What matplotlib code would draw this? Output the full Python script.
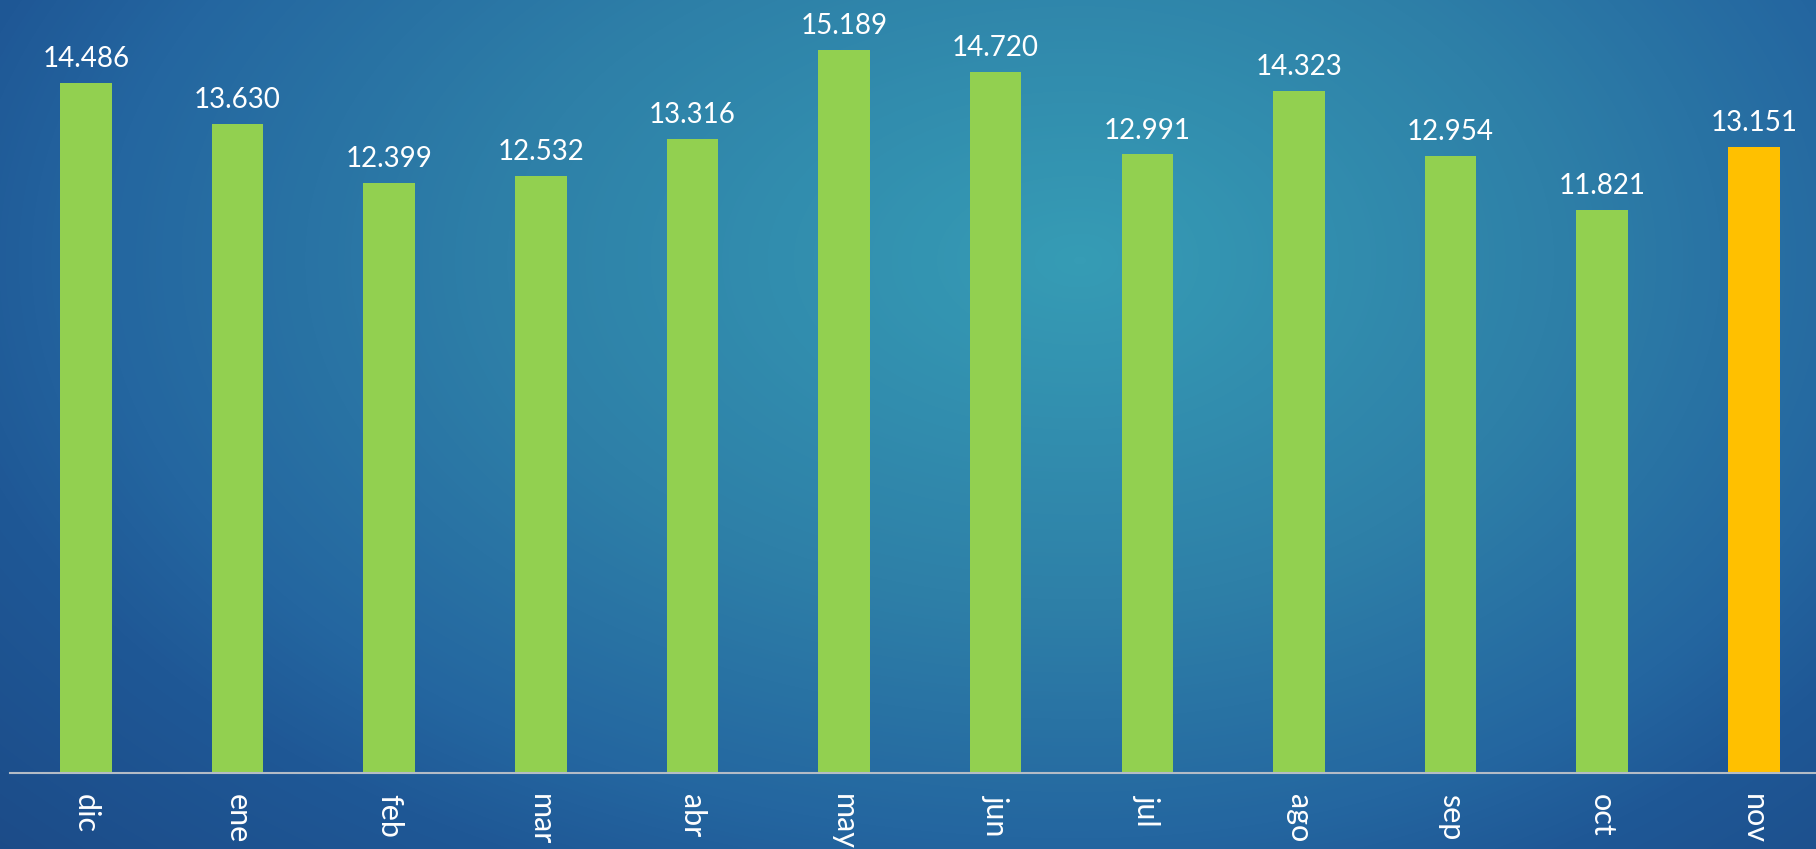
import numpy as np
import matplotlib
matplotlib.use('Agg')
import matplotlib.pyplot as plt
from matplotlib.colors import LinearSegmentedColormap

months = ['dic', 'ene', 'feb', 'mar', 'abr', 'may', 'jun', 'jul', 'ago', 'sep', 'oct', 'nov']
values = [14.486, 13.630, 12.399, 12.532, 13.316, 15.189, 14.720, 12.991, 14.323, 12.954, 11.821, 13.151]
labels = ['14.486', '13.630', '12.399', '12.532', '13.316', '15.189', '14.720', '12.991', '14.323', '12.954', '11.821', '13.151']

plt.rcParams['font.family'] = ['Lato', 'DejaVu Sans']

W, H = 1816, 849
fig = plt.figure(figsize=(W / 100, H / 100), dpi=100)

# background: radial gradient, lighter teal in the middle
bg = fig.add_axes([0, 0, 1, 1])
bg.set_axis_off()
xx, yy = np.meshgrid(np.arange(W), np.arange(H))
cx, cy = 1080, 260
rx = np.where(xx < cx, 1150.0, 950.0)
t = np.sqrt(((xx - cx) / rx) ** 2 + ((yy - cy) / 680.0) ** 2)
t = np.clip(t / 1.45, 0, 1)
cmap = LinearSegmentedColormap.from_list('bg', [
    (0.0, '#369cb5'),
    (0.5 / 1.45, '#2e80a8'),
    (0.85 / 1.45, '#2466a0'),
    (1.0 / 1.45, '#1f5896'),
    (1.0, '#1a4480'),
])
bg.imshow(t, cmap=cmap, vmin=0, vmax=1, aspect='auto', extent=[0, W, H, 0])

# chart area
left = 10 / W
bottom = (H - 773) / H
ax = fig.add_axes([left, bottom, 1 - left, 773 / H])
ax.patch.set_alpha(0)

colors = ['#92d050'] * (len(months) - 1) + ['#ffc000']
x = np.arange(len(months))
bars = ax.bar(x, values, width=0.34, color=colors)

for rect, lab in zip(bars, labels):
    ax.annotate(lab, (rect.get_x() + rect.get_width() / 2, rect.get_height()),
                xytext=(0, 11.5), textcoords='offset points',
                ha='center', va='baseline', color='white', fontsize=20)

ax.set_xlim(-0.5, 11.41)
ax.set_ylim(0, 16.236)
ax.set_xticks(x)
ax.set_xticklabels(months, rotation=270, color='white', fontsize=22,
                   ha='center', va='top')
ax.tick_params(axis='x', length=0, pad=15)
ax.set_yticks([])
for s in ['top', 'right', 'left']:
    ax.spines[s].set_visible(False)
ax.spines['bottom'].set_color('#b4bcc6')
ax.spines['bottom'].set_linewidth(1.5)

fig.savefig('out.png', dpi=100)
